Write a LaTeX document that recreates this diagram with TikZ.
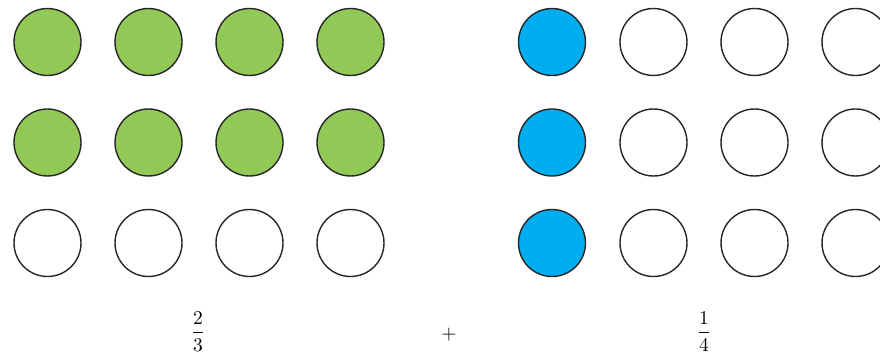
\documentclass[tikz,border=0pt]{standalone}
\definecolor{dotgreen}{RGB}{146,200,85}
\definecolor{dotblue}{RGB}{0,174,239}
\tikzset{
  dot/.style={circle, draw=black!85, line width=1.4pt, minimum size=67pt, inner sep=0pt},
  gdot/.style={dot, fill=dotgreen},
  bdot/.style={dot, fill=dotblue},
  wdot/.style={dot, fill=white},
  lbl/.style={inner sep=0pt, scale=1.95}
}
\begin{document}
\begin{tikzpicture}[x=1pt,y=-1pt]
\useasboundingbox (0,0) rectangle (880,355);
\clip (0,0) rectangle (880,355);
% left group
\foreach \i/\x in {1/47.5,2/148.5,3/249.5,4/350.5}{
  \node[gdot] (L1\i) at (\x,42) {};
  \node[gdot] (L2\i) at (\x,142.5) {};
  \node[wdot] (L3\i) at (\x,243) {};
}
% right group
\node[bdot] (R11) at (552,42) {};
\node[bdot] (R21) at (552,142.5) {};
\node[bdot] (R31) at (552,243) {};
\foreach \i/\x in {2/653.5,3/754.5,4/855.5}{
  \node[wdot] (R1\i) at (\x,42) {};
  \node[wdot] (R2\i) at (\x,142.5) {};
  \node[wdot] (R3\i) at (\x,243) {};
}
\node[lbl] (f1) at (198,331.5) {$\displaystyle\frac{2}{3}$};
\node[lbl] (plus) at (449,335) {$+$};
\node[lbl] (f2) at (704,331.5) {$\displaystyle\frac{1}{4}$};
\end{tikzpicture}
\end{document}
